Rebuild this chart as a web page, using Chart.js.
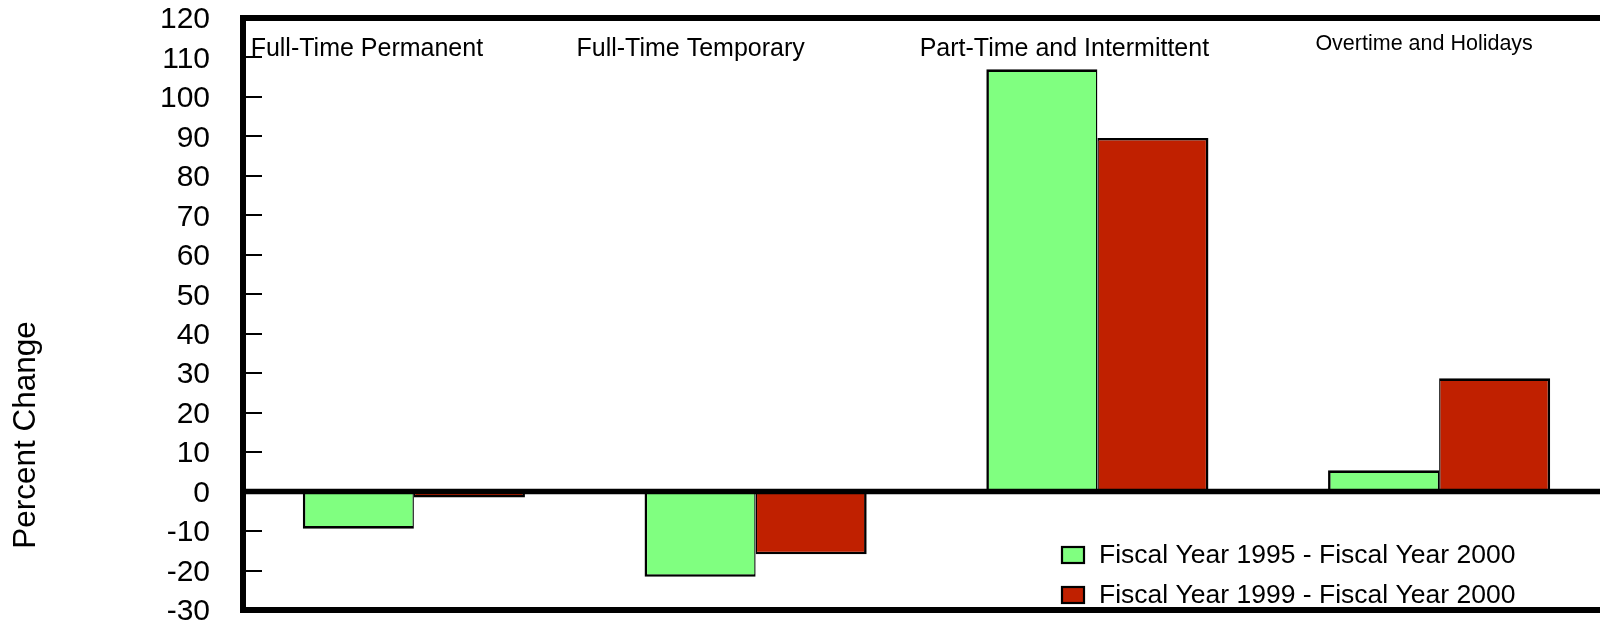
<!DOCTYPE html>
<html>
<head>
<meta charset="utf-8">
<title>Percent Change</title>
<script src="https://cdn.jsdelivr.net/npm/chart.js@4/dist/chart.umd.min.js"></script>
<style>
  html, body { margin: 0; padding: 0; background: #fff; overflow: hidden; }
  #wrap { width: 1620px; height: 626px; }
</style>
</head>
<body>
<div id="wrap"><canvas id="changeChart" width="1620" height="626"></canvas></div>
<script>
// Categories and series values (percent change)
const categories = ['Full-Time Permanent', 'Full-Time Temporary', 'Part-Time and Intermittent', 'Overtime and Holidays'];
const fy1995to2000 = [-9.4, -21.6, 107, 5.4];
const fy1999to2000 = [-1.5, -15.9, 89.6, 28.7];
const seriesLabels = ['Fiscal Year 1995 - Fiscal Year 2000', 'Fiscal Year 1999 - Fiscal Year 2000'];
const yMin = -30, yMax = 120, yStep = 10;

const FONT = "'Liberation Sans', Arial, sans-serif";
const GREEN = '#80ff80';
const RED = '#c02000';

// Category captions sit along the top of the plot, shifted a bit from each group centre
const captionShift = [-47, -65, -33, -15];
const captionSize = [25, 25, 25, 21.5];
const captionBaseline = [56, 56, 56, 50];

// Frame, inside ticks, zero line, captions, axis title and legend
const decorations = {
  id: 'decorations',
  afterDatasetsDraw(chart) {
    const { ctx, chartArea: a, scales: { x, y } } = chart;
    ctx.save();

    // tick marks pointing into the plot
    ctx.strokeStyle = '#000';
    ctx.lineWidth = 2;
    y.ticks.forEach(t => {
      const py = Math.round(y.getPixelForValue(t.value));
      ctx.beginPath();
      ctx.moveTo(a.left, py);
      ctx.lineTo(a.left + 19, py);
      ctx.stroke();
    });

    // heavy frame (top, left, bottom) and zero line
    ctx.lineWidth = 6;
    ctx.lineCap = 'square';
    ctx.beginPath();
    ctx.moveTo(a.right + 10, a.top);
    ctx.lineTo(a.left, a.top);
    ctx.lineTo(a.left, a.bottom);
    ctx.lineTo(a.right + 10, a.bottom);
    ctx.stroke();
    const zy = y.getPixelForValue(0);
    ctx.lineWidth = 5.5;
    ctx.beginPath();
    ctx.moveTo(a.left, zy);
    ctx.lineTo(a.right + 10, zy);
    ctx.stroke();

    // category captions
    ctx.fillStyle = '#000';
    ctx.textAlign = 'center';
    ctx.textBaseline = 'alphabetic';
    categories.forEach((c, i) => {
      ctx.font = captionSize[i] + 'px ' + FONT;
      ctx.fillText(c, x.getPixelForValue(i) + captionShift[i], captionBaseline[i]);
    });

    // y axis title
    ctx.save();
    ctx.translate(26, 435);
    ctx.rotate(-Math.PI / 2);
    ctx.font = '31.5px ' + FONT;
    ctx.textBaseline = 'middle';
    ctx.fillText('Percent Change', 0, 0);
    ctx.restore();

    // legend in the lower right of the plot
    ctx.font = '26.5px ' + FONT;
    ctx.textAlign = 'left';
    ctx.textBaseline = 'middle';
    chart.data.datasets.forEach((ds, i) => {
      const cy = 555 + i * 40;
      ctx.fillStyle = ds.backgroundColor;
      ctx.fillRect(1062, cy - 8, 22, 16);
      ctx.lineWidth = 2.2;
      ctx.strokeStyle = '#000';
      ctx.strokeRect(1062, cy - 8, 22, 16);
      ctx.fillStyle = '#000';
      ctx.fillText(ds.label, 1099, cy + 1);
    });

    ctx.restore();
  }
};

const ctx = document.getElementById('changeChart').getContext('2d');
const changeChart = new Chart(ctx, {
  type: 'bar',
  data: {
    labels: categories,
    datasets: [{
      label: seriesLabels[0],
      data: fy1995to2000,
      backgroundColor: GREEN,
      borderColor: '#000',
      borderWidth: { top: 2.6, right: 1.4, bottom: 2.6, left: 2.6 }
    }, {
      label: seriesLabels[1],
      data: fy1999to2000,
      backgroundColor: RED,
      borderColor: '#000',
      borderWidth: { top: 2.6, right: 2.6, bottom: 2.6, left: 1.4 }
    }]
  },
  options: {
    responsive: false,
    animation: false,
    devicePixelRatio: 1,
    layout: { padding: { top: 18, right: 10, bottom: 16, left: 0 } },
    datasets: {
      bar: { categoryPercentage: 0.65, barPercentage: 1.0 }
    },
    scales: {
      x: { display: false },
      y: {
        min: yMin,
        max: yMax,
        afterFit: scale => {
          scale.width = 243;
          // labels sit beside the frame; no extra room above or below
          scale.paddingTop = 0;
          scale.paddingBottom = 0;
        },
        border: { display: false },
        grid: { display: false, drawTicks: false },
        ticks: {
          stepSize: yStep,
          padding: 33,
          labelOffset: 2,
          color: '#000',
          font: { family: FONT, size: 30, lineHeight: 1 }
        }
      }
    },
    plugins: {
      legend: { display: false },
      tooltip: { enabled: false }
    }
  },
  plugins: [decorations]
});
</script>
</body>
</html>
